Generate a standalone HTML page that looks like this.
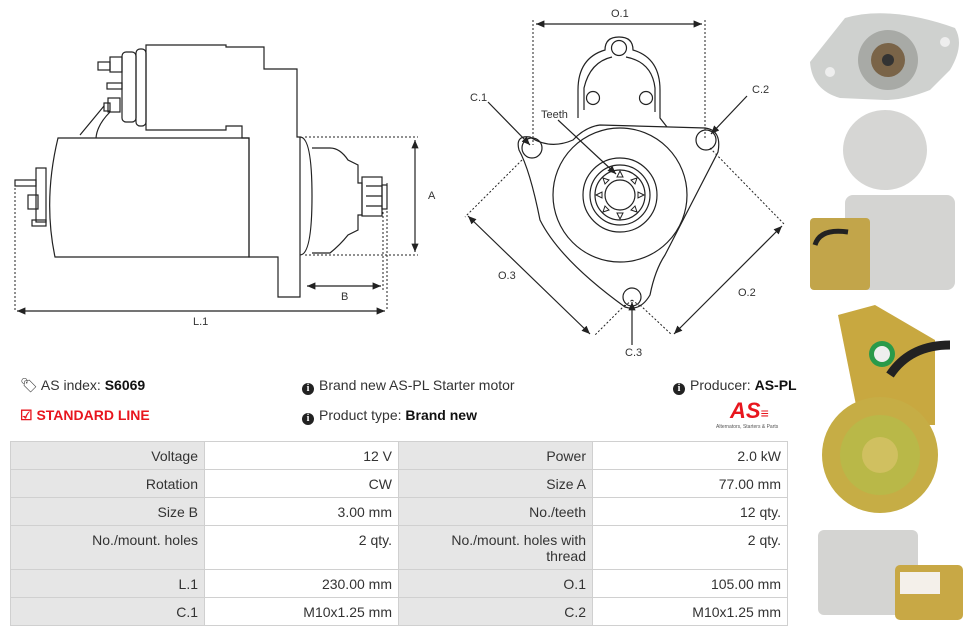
<!DOCTYPE html>
<html><head><meta charset="utf-8"><style>
body{margin:0;width:970px;height:636px;background:#fff;font-family:"Liberation Sans",sans-serif;position:relative;overflow:hidden}
.t{position:absolute;font-size:14px;color:#333;white-space:nowrap}
.t b{color:#111}
table{position:absolute;left:10px;top:441px;border-collapse:collapse;font-size:14px;color:#333}
td{border:1px solid #d0d0d0;text-align:right;padding:6px 6px 0 6px;vertical-align:top;height:21px}
td.l{background:#e6e6e6}
.ic{display:inline-block;width:12px;height:12px;border-radius:50%;background:#222;color:#fff;font-size:10px;text-align:center;line-height:12px;font-weight:bold;vertical-align:-1px;margin-right:5px;font-family:"Liberation Serif",serif}
</style></head><body>
<svg width="970" height="636" style="position:absolute;left:0;top:0" fill="none" stroke="#222" stroke-width="1.2">
<defs><marker id="a" markerWidth="8" markerHeight="8" refX="7" refY="4" orient="auto-start-reverse"><path d="M0,1 L7,4 L0,7z" fill="#222" stroke="none"/></marker></defs>
<path d="M146,45 H226 V47 H264 V69 H297 V137 H300 V297 H278 V257 H249 V138 H242 V126 H226 V130 H146 Z"/>
<rect x="136" y="49" width="10" height="77" rx="4"/>
<rect x="122" y="52" width="14" height="70" rx="4"/>
<rect x="110" y="57" width="12" height="15"/><rect x="98" y="62" width="12" height="8"/>
<rect x="107" y="83" width="15" height="6"/>
<rect x="108" y="98" width="12" height="14"/><rect x="104" y="103" width="6" height="8"/>
<path d="M104,106 L80,135 M110,112 Q97,125 96,138"/>
<path d="M58,138 H249 V257 H55 Q43,200 58,138 Z"/>
<rect x="36" y="168" width="10" height="54"/><rect x="28" y="195" width="10" height="14"/>
<rect x="15" y="180" width="21" height="6"/><rect x="32" y="220" width="14" height="6"/>
<path d="M300,137 Q312,137 312,196 Q312,255 300,255"/>
<path d="M312,148 H330 Q340,148 348,160 L358,165 V183 H362 V215 H358 V230 L348,235 Q340,245 330,253 H312"/>
<rect x="362" y="177" width="20" height="39"/><path d="M366,186 H382 M366,196 H382 M366,206 H382"/><rect x="382" y="185" width="5" height="24"/>
<g stroke-dasharray="2,2" stroke-width="1"><path d="M305,137 H418 M305,255 H418 M15,180 V311 M387,183 V311 M383,212 V290"/></g>
<path d="M415,140 V252" marker-start="url(#a)" marker-end="url(#a)"/>
<path d="M307,286 H381" marker-start="url(#a)" marker-end="url(#a)"/>
<path d="M17,311 H385" marker-start="url(#a)" marker-end="url(#a)"/>
<path d="M578,118 V90 Q578,58 605,50 Q605,37 619,37 Q633,37 633,50 Q660,58 660,90 V118 L667,127"/>
<path d="M584,110 V88 Q590,62 612,57 M626,57 Q652,62 655,88 V112"/>
<circle cx="619" cy="48" r="7.5"/><circle cx="593" cy="98" r="6.5"/><circle cx="646" cy="98" r="6.5"/>
<path d="M573,140 Q550,150 530,137 Q515,135 519,150 Q530,170 540,220 Q560,260 625,307 Q640,312 650,295 Q655,270 665,255 L718,152 Q722,130 705,128 L600,125 Q585,127 573,140 Z"/>
<circle cx="532" cy="148" r="10"/><circle cx="706" cy="140" r="10"/><circle cx="632" cy="297" r="9"/>
<circle cx="620" cy="195" r="67"/><circle cx="620" cy="195" r="37"/><circle cx="620" cy="195" r="30"/>
<circle cx="620" cy="195" r="25"/><circle cx="620" cy="195" r="15"/>
<g stroke-width="1">
<path d="M620,171 l-3,6 h6z M620,219 l-3,-6 h6z M596,195 l6,-3 v6z M644,195 l-6,-3 v6z M603,178 l6,2 -4,4z M637,178 l-6,2 4,4z M603,212 l6,-2 -4,-4z M637,212 l-6,-2 4,-4z"/></g>
<g stroke-dasharray="2,2" stroke-width="1"><path d="M533,20 V145 M705,20 V140 M522,160 L465,217 M710,148 L785,225 M625,305 L595,335 M640,305 L672,335 M632,300 L625,306 M632,300 L640,306"/></g>
<path d="M536,24 H702" marker-start="url(#a)" marker-end="url(#a)"/>
<path d="M468,216 L590,334" marker-start="url(#a)" marker-end="url(#a)"/>
<path d="M782,226 L674,334" marker-start="url(#a)" marker-end="url(#a)"/>
<path d="M488,102 L530,145" marker-end="url(#a)"/><path d="M747,96 L711,134" marker-end="url(#a)"/>
<path d="M558,120 L616,174" marker-end="url(#a)"/><path d="M632,345 L632,302" marker-end="url(#a)"/>
<g fill="#333" stroke="none" font-size="11" font-family="Liberation Sans"><text x="428" y="199">A</text><text x="341" y="300">B</text><text x="193" y="325">L.1</text><text x="611" y="17">O.1</text><text x="470" y="101">C.1</text><text x="752" y="93">C.2</text><text x="541" y="118">Teeth</text><text x="498" y="279">O.3</text><text x="738" y="296">O.2</text><text x="625" y="356">C.3</text></g>
<g stroke="none">
<ellipse cx="885" cy="150" rx="42" ry="40" fill="#d6d6d4"/>
<path d="M810,62 L845,18 Q890,5 955,28 Q965,45 950,70 L930,90 Q905,100 885,100 L840,98 Q812,90 810,62Z" fill="#cfd1cf"/>
<circle cx="888" cy="60" r="30" fill="#a8aaa6"/><circle cx="888" cy="60" r="17" fill="#7a6448"/><circle cx="888" cy="60" r="6" fill="#333"/>
<circle cx="830" cy="72" r="5" fill="#eee"/><circle cx="945" cy="42" r="5" fill="#eee"/>
<rect x="845" y="195" width="110" height="95" rx="8" fill="#d4d4d2"/><rect x="810" y="218" width="60" height="72" rx="4" fill="#c2a54a"/>
<path d="M815,245 Q820,228 848,232" stroke="#222" stroke-width="5" fill="none"/>
<path d="M838,315 L875,305 L935,340 L935,425 L860,425 Z" fill="#c8a840"/>
<circle cx="880" cy="455" r="58" fill="#c6ad45"/><circle cx="880" cy="455" r="40" fill="#b9b848"/><circle cx="880" cy="455" r="18" fill="#d0c060"/>
<circle cx="882" cy="354" r="13" fill="#2a9a4a"/><circle cx="882" cy="354" r="8" fill="#eee"/>
<path d="M890,375 Q910,345 950,345" stroke="#222" stroke-width="9" fill="none"/>
<rect x="818" y="530" width="100" height="85" rx="6" fill="#d4d4d2"/><rect x="895" y="565" width="68" height="55" rx="5" fill="#c8a845"/><rect x="900" y="572" width="40" height="22" fill="#f4f0ea"/>
</g>
</svg>
<div class="t" style="left:20px;top:377px">&#x1F3F7;&#xFE0E; AS index: <b>S6069</b></div>
<div class="t" style="left:20px;top:407px;color:#e8161e;font-weight:bold">&#9745; STANDARD LINE</div>
<div class="t" style="left:302px;top:377px"><span class="ic">i</span>Brand new AS-PL Starter motor</div>
<div class="t" style="left:302px;top:407px"><span class="ic">i</span>Product type: <b>Brand new</b></div>
<div class="t" style="left:673px;top:377px"><span class="ic">i</span>Producer: <b>AS-PL</b></div>
<div style="position:absolute;left:730px;top:398px;color:#e8161e;font-weight:bold;font-style:italic;font-size:22px">AS<span style="font-size:14px">≡</span></div>
<div style="position:absolute;left:716px;top:424px;font-size:5px;color:#555">Alternators, Starters &amp; Parts</div>
<table>
<tr><td class="l" style="width:181px">Voltage</td><td style="width:181px">12 V</td><td class="l" style="width:181px">Power</td><td style="width:182px">2.0 kW</td></tr>
<tr><td class="l">Rotation</td><td>CW</td><td class="l">Size A</td><td>77.00 mm</td></tr>
<tr><td class="l">Size B</td><td>3.00 mm</td><td class="l">No./teeth</td><td>12 qty.</td></tr>
<tr><td class="l" style="height:37px">No./mount. holes</td><td>2 qty.</td><td class="l">No./mount. holes with<br>thread</td><td>2 qty.</td></tr>
<tr><td class="l">L.1</td><td>230.00 mm</td><td class="l">O.1</td><td>105.00 mm</td></tr>
<tr><td class="l">C.1</td><td>M10x1.25 mm</td><td class="l">C.2</td><td>M10x1.25 mm</td></tr>
</table>
</body></html>
